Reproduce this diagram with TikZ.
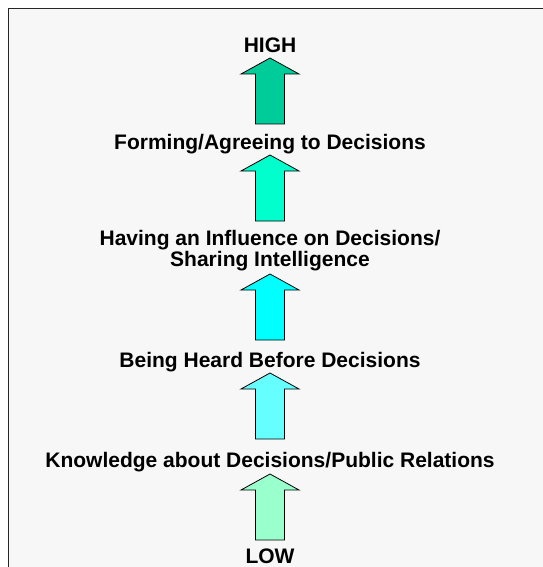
\documentclass[tikz,border=0pt]{standalone}
\usepackage{fontspec}
\setmainfont{Liberation Sans}
\definecolor{panelgray}{HTML}{F7F7F7}
\definecolor{lvlhigh}{HTML}{00CC99}
\definecolor{lvlform}{HTML}{00FFCC}
\definecolor{lvlinfl}{HTML}{00FFFF}
\definecolor{lvlheard}{HTML}{66FFFF}
\definecolor{lvlknow}{HTML}{99FFCC}
\tikzset{
	lvllabel/.style={font=\bfseries\fontsize{21}{21}\selectfont, align=center, inner sep=0pt},
	uparrow/.style={draw=black, line width=0.8pt, line join=miter}
}
\begin{document}
\begin{tikzpicture}[x=1pt,y=-1pt]
		\useasboundingbox[fill=white] (0,0) rectangle (542,567);
		\draw[overlay, fill=panelgray, draw=black!85, line width=1.6pt] (8.5,8.5) rectangle (560,590);
		\pgfmathsetmacro{\cx}{270}
		\pgfmathsetmacro{\hw}{29}
		\pgfmathsetmacro{\sw}{14.5}
		\pgfmathsetmacro{\hl}{16}
		\pgfmathsetmacro{\al}{66}
		% one arrow per step, tip y / colour
		\foreach \t/\c in {58/lvlhigh, 155/lvlform, 274/lvlinfl, 373/lvlheard, 474/lvlknow}{
			\draw[uparrow, fill=\c] (\cx,\t) -- ({\cx+\hw},{\t+\hl}) -- ({\cx+\sw},{\t+\hl})
				-- ({\cx+\sw},{\t+\al}) -- ({\cx-\sw},{\t+\al}) -- ({\cx-\sw},{\t+\hl})
				-- ({\cx-\hw},{\t+\hl}) -- cycle;
		}
		\node[lvllabel, anchor=base] (high) at (\cx,53) {HIGH};
		\node[lvllabel, anchor=base] (forming) at (\cx,149) {Forming/Agreeing to Decisions};
		\node[lvllabel] (influence) at (\cx,251) {Having an Influence on Decisions/\\Sharing Intelligence};
		\node[lvllabel, anchor=base] (heard) at (\cx,367) {Being Heard Before Decisions};
		\node[lvllabel, anchor=base] (knowledge) at (\cx,467) {Knowledge about Decisions/Public Relations};
		\node[lvllabel, anchor=base] (low) at (\cx,563) {LOW};
\end{tikzpicture}
\end{document}
